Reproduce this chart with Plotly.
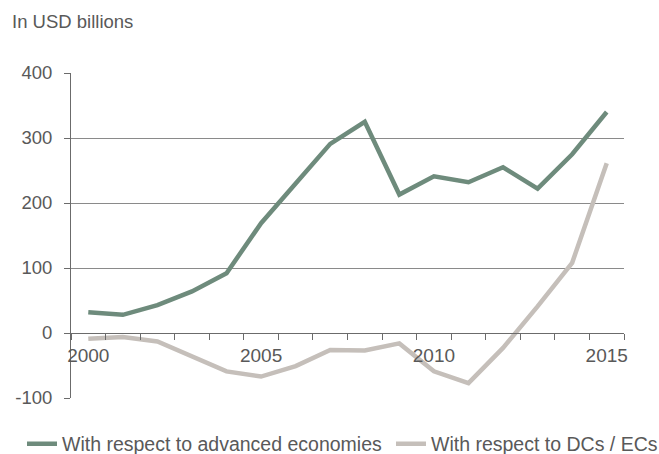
import plotly.graph_objects as go

years = list(range(2000, 2016))
advanced = [32, 28, 43, 64, 92, 169, 230, 291, 325, 213, 241, 232, 255, 222, 275, 340]
dcs_ecs = [-9, -6, -13, -36, -59, -67, -51, -26, -27, -16, -59, -77, -23, 41, 108, 261]
series_names = ["With respect to advanced economies", "With respect to DCs / ECs"]
year_labels = [2000, 2005, 2010, 2015]
y_ticks = [-100, 0, 100, 200, 300, 400]
y_ticktext = ["-100", "0", "100", "200", "300", "400"]

TXT = "#595959"
AX = "#6b6b6b"
FONT = "Liberation Sans, Arial, sans-serif"

fig = go.Figure()
fig.add_trace(go.Scatter(x=years, y=advanced, mode="lines", name=series_names[0],
                         line=dict(color="#6E8B7C", width=4.5), legend="legend"))
fig.add_trace(go.Scatter(x=years, y=dcs_ecs, mode="lines", name=series_names[1],
                         line=dict(color="#C5BFBA", width=4.5), legend="legend2"))

bounds = [y - 0.5 for y in years] + [years[-1] + 0.5]

legend_common = dict(orientation="h", xref="container", yref="container",
                     xanchor="left", yanchor="middle", y=1 - 444 / 454,
                     font=dict(size=19.5, color=TXT, family=FONT), itemwidth=30,
                     bgcolor="rgba(0,0,0,0)")

fig.update_layout(
    width=659, height=454,
    margin=dict(l=71, r=35, t=73, b=56, autoexpand=False),
    paper_bgcolor="white", plot_bgcolor="white",
    font=dict(family=FONT, color=TXT, size=18),
    title=dict(text="In USD billions", x=12 / 659, xref="container", xanchor="left",
               y=1 - 22 / 454, yref="container", yanchor="middle",
               font=dict(size=18.5, color=TXT, family=FONT)),
    xaxis=dict(range=[years[0] - 0.5, years[-1] + 0.5], tickmode="array",
               tickvals=year_labels, ticktext=[str(v) for v in year_labels],
               ticks="", showgrid=False, zeroline=False,
               showline=True, linecolor=AX, linewidth=1,
               anchor="free", position=100 / 500,
               ticklabelstandoff=5,
               tickfont=dict(size=19, color=TXT),
               minor=dict(tickmode="array", tickvals=bounds, ticks="outside",
                          ticklen=6, tickcolor=AX, tickwidth=1, showgrid=False)),
    yaxis=dict(range=[-100, 400], tickmode="array", tickvals=y_ticks, ticktext=y_ticktext,
               ticks="outside", ticklen=6, tickcolor=AX,
               showline=True, linecolor=AX, linewidth=1,
               showgrid=True, gridcolor="#8a8a8a", gridwidth=1, zeroline=False,
               ticklabelstandoff=8,
               tickfont=dict(size=18.5, color=TXT)),
    legend=dict(legend_common, x=22 / 659),
    legend2=dict(legend_common, x=391 / 659),
    showlegend=True,
)

fig.write_html("out.html", config={"displayModeBar": False},
               post_script="document.body.style.margin='0';document.body.style.padding='0';")
